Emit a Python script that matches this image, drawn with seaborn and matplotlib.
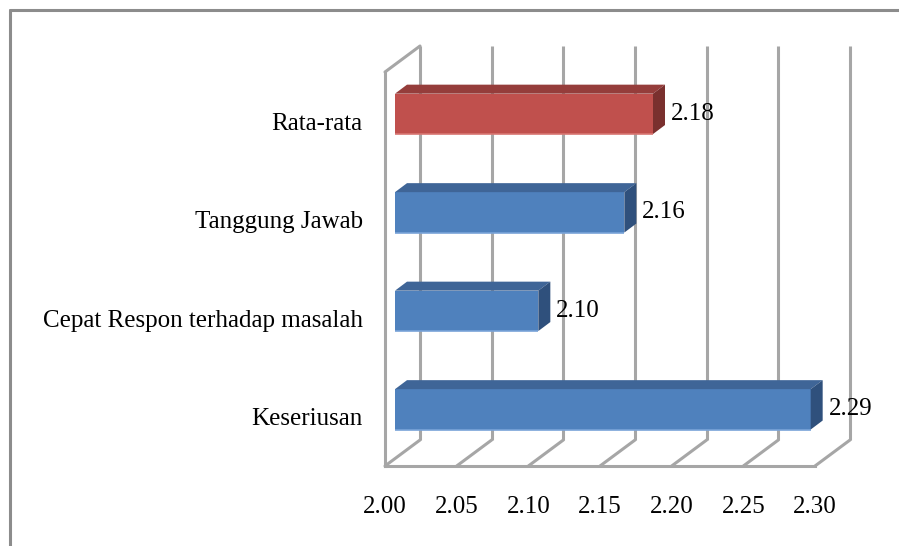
import matplotlib
matplotlib.use("Agg")
import matplotlib.pyplot as plt
from matplotlib.transforms import ScaledTranslation
from matplotlib.patches import Polygon
from matplotlib.lines import Line2D
import seaborn as sns
import pandas as pd

# ---- data ----
categories = ["Rata-rata", "Tanggung Jawab", "Cepat Respon terhadap masalah", "Keseriusan"]
values = [2.18, 2.16, 2.10, 2.29]
value_labels = ["2.18", "2.16", "2.10", "2.29"]
x_ticks = [2.00, 2.05, 2.10, 2.15, 2.20, 2.25, 2.30]
x_tick_labels = ["2.00", "2.05", "2.10", "2.15", "2.20", "2.25", "2.30"]

front_colors = ["#c0504d", "#4f81bd", "#4f81bd", "#4f81bd"]
top_colors = ["#953d3b", "#3f6597", "#3f6597", "#3f6597"]
side_colors = ["#7a302e", "#2f507c", "#2f507c", "#2f507c"]
edge_colors = ["#d87672", "#79a3d8", "#79a3d8", "#79a3d8"]

df = pd.DataFrame({"kategori": categories, "nilai": values})

sns.set_theme(style="white")
plt.rcParams["font.family"] = ["Liberation Serif", "DejaVu Serif"]

DPI = 100
W, H = 899, 546
fig = plt.figure(figsize=(W / DPI, H / DPI), dpi=DPI)

# front plane of the 3-D box, in pixels
fx0, fx1, fy_top, fy_bot = 385, 815, 72, 466
ax = fig.add_axes([fx0 / W, 1 - fy_bot / H, (fx1 - fx0) / W, (fy_bot - fy_top) / H])

GRID = "#a6a6a6"
LW = 2.2
FS = 18

sns.barplot(data=df, y="kategori", x="nilai", hue="kategori", palette=front_colors,
            order=categories, hue_order=categories, width=0.41, errorbar=None,
            saturation=1, legend=False, ax=ax, zorder=4, linewidth=0)

xmin, xmax = x_ticks[0], x_ticks[-1]
ax.set_xlim(xmin, xmax)
ax.set_ylim(len(categories) - 0.5, -0.5)

# data units per pixel
kx = (xmax - xmin) / (fx1 - fx0)
ky = len(categories) / (fy_bot - fy_top)


def shifted(dx_px, dy_px):
    return ax.transData + ScaledTranslation(dx_px / DPI, dy_px / DPI, fig.dpi_scale_trans)


# depth of the box and of the bars (pixels)
BACK_DX, BACK_DY = 35, 26
BAR_DX, BAR_DY = 10, 7.4
DEPTH_DX, DEPTH_DY = 12, 9

y_lo, y_hi = len(categories) - 0.5, -0.5
back = shifted(BACK_DX, BACK_DY)
for t in x_ticks:
    # back wall gridline
    ax.plot([t, t], [y_lo, y_hi], color=GRID, lw=LW, transform=back, clip_on=False,
            zorder=1, solid_capstyle="butt")
    # floor line running from front to back
    ax.plot([t, t + BACK_DX * kx], [y_lo, y_lo - BACK_DY * ky], color=GRID, lw=LW,
            clip_on=False, zorder=1)
# top edge of the side wall
ax.plot([xmin, xmin + BACK_DX * kx], [y_hi, y_hi - BACK_DY * ky], color=GRID, lw=LW,
        clip_on=False, zorder=1)

# bars start at the axis base; move them to their depth and add top / side faces
bar_tr = shifted(BAR_DX, BAR_DY)
ddx, ddy = DEPTH_DX * kx, -DEPTH_DY * ky
for i, patch in enumerate(ax.patches[:len(categories)]):
    end = patch.get_x() + patch.get_width()
    patch.set_x(xmin)
    patch.set_width(end - xmin)
    patch.set_transform(bar_tr)
    patch.set_clip_on(False)
    x0, x1 = xmin, end
    y0, h = patch.get_y(), patch.get_height()
    top = Polygon([(x0, y0), (x1, y0), (x1 + ddx, y0 + ddy), (x0 + ddx, y0 + ddy)],
                  closed=True, facecolor=top_colors[i], edgecolor="none",
                  transform=bar_tr, clip_on=False, zorder=4)
    side = Polygon([(x1, y0), (x1 + ddx, y0 + ddy), (x1 + ddx, y0 + h + ddy), (x1, y0 + h)],
                   closed=True, facecolor=side_colors[i], edgecolor="none",
                   transform=bar_tr, clip_on=False, zorder=4)
    ax.add_patch(top)
    ax.add_patch(side)
    # soft highlight along the lower edge of the front face
    ax.plot([x0, x1], [y0 + h, y0 + h], color=edge_colors[i], lw=1.2, transform=bar_tr,
            clip_on=False, zorder=5, solid_capstyle="butt")
    ax.text(x1, y0 + h / 2, value_labels[i], transform=shifted(BAR_DX + DEPTH_DX + 6, BAR_DY),
            ha="left", va="center", fontsize=FS, color="black", zorder=6)

# axes: front floor edge and side wall edge
for s in ["top", "right"]:
    ax.spines[s].set_visible(False)
for s in ["bottom", "left"]:
    ax.spines[s].set_color(GRID)
    ax.spines[s].set_linewidth(LW)
    ax.spines[s].set_zorder(2)

ax.set_xticks(x_ticks)
ax.set_xticklabels(x_tick_labels, fontsize=FS)
ax.tick_params(axis="x", direction="out", length=4.5, width=LW, color=GRID, pad=17,
               labelcolor="black")

ax.set_yticks([i - 0.5 for i in range(len(categories) + 1)])
ax.set_yticklabels([])
ax.set_yticks(range(len(categories)), minor=True)
ax.set_yticklabels(categories, minor=True, fontsize=FS)
ax.tick_params(axis="y", which="major", direction="out", length=4.5, width=LW, color=GRID)
ax.tick_params(axis="y", which="minor", length=0, pad=16, labelcolor="black")
ax.set_xlabel("")
ax.set_ylabel("")
ax.set_facecolor("none")

# chart area border
BORDER = "#8c8c8c"
fig.add_artist(Line2D([10 / W, 10 / W], [0, 1 - 10 / H], color=BORDER, lw=2.2,
                      transform=fig.transFigure))
fig.add_artist(Line2D([10 / W, 1], [1 - 10 / H, 1 - 10 / H], color=BORDER, lw=2.2,
                      transform=fig.transFigure))

fig.savefig("out.png", dpi=DPI, facecolor="white")
